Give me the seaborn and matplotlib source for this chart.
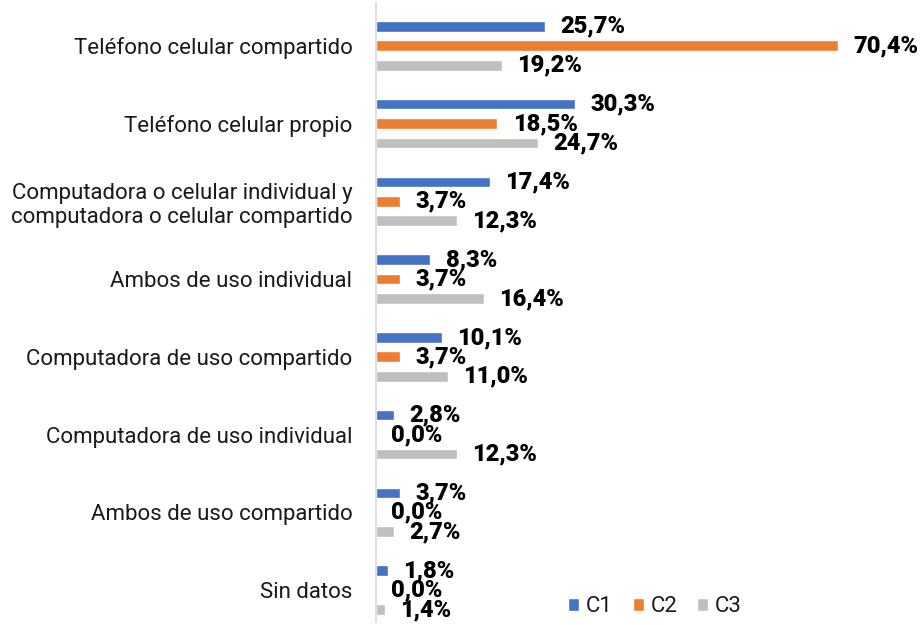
import numpy as np
import pandas as pd
import matplotlib
matplotlib.use("Agg")
import matplotlib.pyplot as plt
import seaborn as sns

# categorías y valores (%) por grupo
categorias = [
    "Teléfono celular compartido",
    "Teléfono celular propio",
    "Computadora o celular individual y\ncomputadora o celular compartido",
    "Ambos de uso individual",
    "Computadora de uso compartido",
    "Computadora de uso individual",
    "Ambos de uso compartido",
    "Sin datos",
]
series = ["C1", "C2", "C3"]
c1 = [25.7, 30.3, 17.4, 8.3, 10.1, 2.8, 3.7, 1.8]
c2 = [70.4, 18.5, 3.7, 3.7, 3.7, 0.0, 0.0, 0.0]
c3 = [19.2, 24.7, 12.3, 16.4, 11.0, 12.3, 2.7, 1.4]
colores = ["#4472C4", "#ED7D31", "#BFBFBF"]

df = pd.DataFrame({
    "categoria": categorias * 3,
    "serie": ["C1"] * 8 + ["C2"] * 8 + ["C3"] * 8,
    "valor": c1 + c2 + c3,
})

sns.set_style("white")
plt.rcParams["font.family"] = ["Roboto", "DejaVu Sans"]

fig = plt.figure(figsize=(9.23, 6.25), dpi=100)
ax = fig.add_axes([376 / 923, 3 / 625, (901 - 376) / 923, (622 - 3) / 625])

sns.barplot(data=df, y="categoria", x="valor", hue="serie", order=categorias,
            hue_order=series, palette=colores, saturation=1, errorbar=None,
            width=0.75, gap=0.45, orient="h", ax=ax)

ax.set_xlim(0, 80)
ax.set_ylim(7.41, -0.55)

# etiquetas de datos
for cont in ax.containers:
    etiquetas = [f"{b.get_width():.1f}%".replace(".", ",") for b in cont]
    ax.bar_label(cont, labels=etiquetas, padding=11, fontsize=17,
                 fontweight="black", color="black")

ax.set_xlabel("")
ax.set_ylabel("")
ax.set_xticks([])
ax.tick_params(axis="y", length=0, pad=17, labelsize=16, labelcolor="#1a1a1a")
for s in ["top", "right", "bottom"]:
    ax.spines[s].set_visible(False)
ax.spines["left"].set_color("#D9D9D9")
ax.spines["left"].set_linewidth(1.2)

ax.legend(loc="center", bbox_to_anchor=(655 / 923, 1 - 607 / 625),
          bbox_transform=fig.transFigure, ncol=3, frameon=False,
          fontsize=16, handlelength=0.5, handleheight=0.5,
          handletextpad=0.3, columnspacing=0.9, labelcolor="#1a1a1a")

fig.savefig("out.png", dpi=100)
